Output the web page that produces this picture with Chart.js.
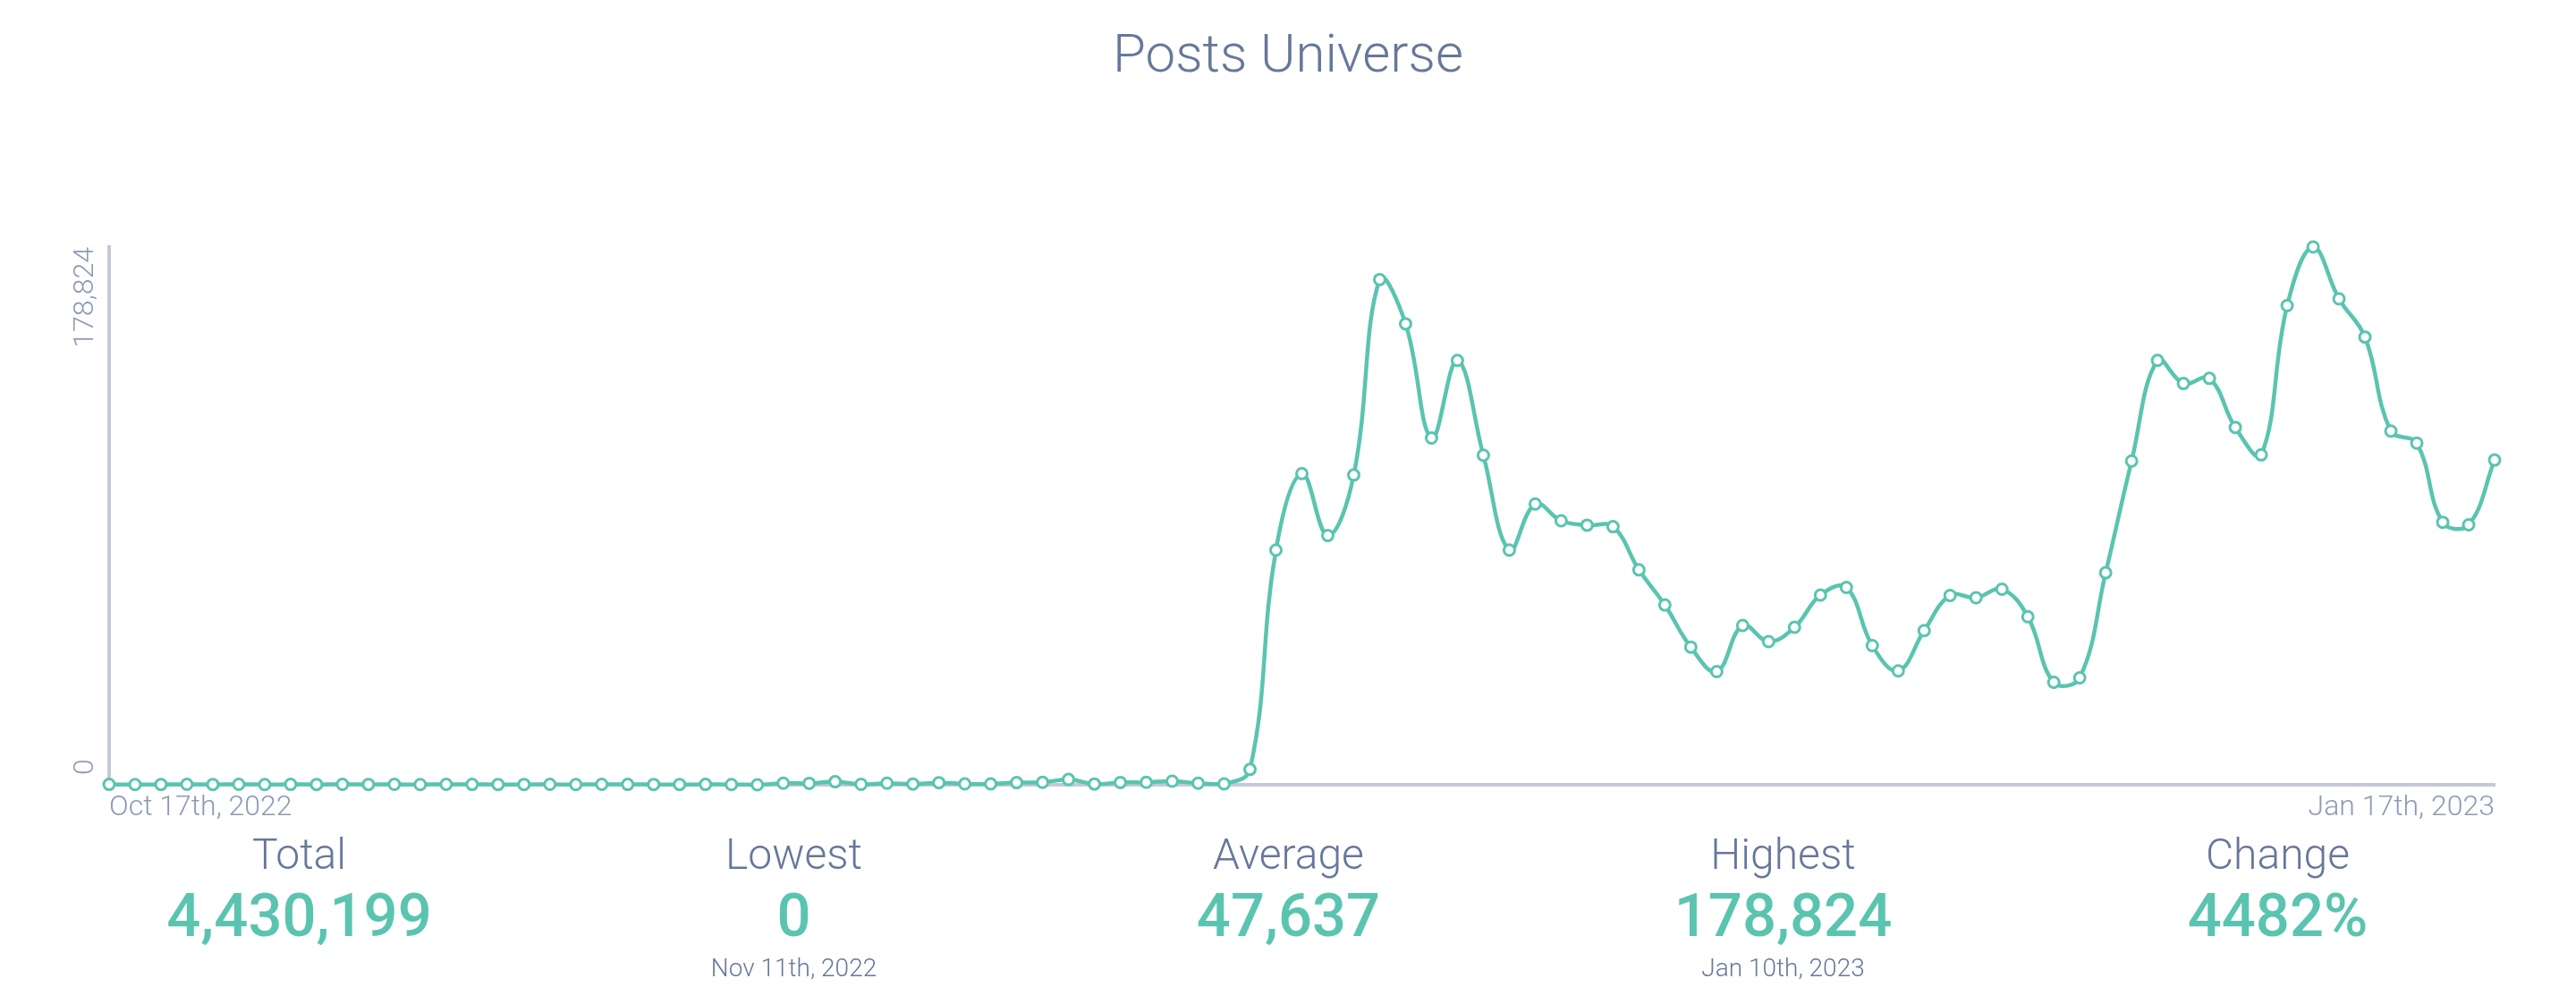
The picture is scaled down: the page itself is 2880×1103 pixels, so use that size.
<!DOCTYPE html>
<html>
<head>
<meta charset="utf-8">
<title>Posts Universe</title>
<script src="https://cdn.jsdelivr.net/npm/chart.js@4.4.0/dist/chart.umd.min.js"></script>
<style>
    html, body { margin: 0; padding: 0; background: #fff; }
    body { width: 2880px; height: 1103px; position: relative; overflow: hidden; font-family: Roboto, sans-serif; }
    #chartBox { position: absolute; left: 0; top: 0; width: 2880px; height: 1103px; }
    #title { position: absolute; left: 0; top: 30px; width: 2880px; text-align: center;
             font-size: 60px; line-height: 60px; font-weight: 300; color: #66789a; }
    .stat { position: absolute; top: 0; width: 553px; text-align: center; }
    .stat div { position: absolute; left: 0; width: 553px; white-space: nowrap; }
    .stat .label { top: 931px; font-size: 48px; line-height: 48px; font-weight: 300; color: #66789a; }
    .stat .value { top: 990px; font-size: 67px; line-height: 67px; font-weight: 500; color: #5ac4b0; }
    .stat .note { top: 1068px; font-size: 28px; line-height: 28px; font-weight: 300; color: #66789a; }
</style>
</head>
<body>
<div id="title">Posts Universe</div>
<div id="chartBox"><canvas id="postsChart"></canvas></div>
<div id="stats"></div>

<script>
// daily posts, Oct 17th 2022 .. Jan 17th 2023
const startDay = [2022, 9, 17];
const dayCount = 93;

const postValues = [
    120, 90, 110, 130, 100, 140, 90, 120, 110, 150, 100, 130, 90, 140, 120, 110, 100, 130, 90, 140, 120, 110, 100,
    120, 90, 0, 510, 480, 1020, 150, 520, 250, 700, 280, 300, 720, 800, 1750, 260, 780, 800, 1200, 520, 300,
    5110, 78030, 103470, 82900, 102990, 167990, 153260, 115280, 141090, 109560,
    78030, 93370, 87770, 86310, 85820, 71460, 59770, 45770, 37620, 52950,
    47600, 52350, 63060, 65620, 46260, 37860, 51250, 62940, 62200, 65010,
    55880, 34090, 35550, 70490, 107620, 141090, 133420, 135130, 118820, 109690,
    159350, 178824, 161550, 148880, 117600, 113580, 87290, 86430, 107980
];

const xTickLabels = ['Oct 17th, 2022', 'Jan 17th, 2023'];
const yTickValues = [0, 178824];

const statLabels = ['Total', 'Lowest', 'Average', 'Highest', 'Change'];
const statValues = ['4,430,199', '0', '47,637', '178,824', '4482%'];
const statNotes = ['', 'Nov 11th, 2022', '', 'Jan 10th, 2023', ''];

const teal = '#5ac4b0';
const axisColor = '#c3c9d8';
const tickColor = '#8e9ab5';

function pad(n) {
    return (n < 10 ? '0' : '') + n;
}

let categories = [];
for (let i = 0; i < dayCount; i++) {
    let d = new Date(startDay[0], startDay[1], startDay[2] + i);
    categories.push(d.getFullYear() + '-' + pad(d.getMonth() + 1) + '-' + pad(d.getDate()));
}

function buildStats() {
    const box = document.getElementById('stats');
    statLabels.forEach(function (label, i) {
        const col = document.createElement('div');
        col.className = 'stat';
        col.style.left = (58 + i * 553) + 'px';

        const l = document.createElement('div');
        l.className = 'label';
        l.textContent = label;
        col.appendChild(l);

        const v = document.createElement('div');
        v.className = 'value';
        v.textContent = statValues[i];
        col.appendChild(v);

        if (statNotes[i]) {
            const n = document.createElement('div');
            n.className = 'note';
            n.textContent = statNotes[i];
            col.appendChild(n);
        }
        box.appendChild(col);
    });
}

// y labels are rotated; the bottom one sits above its tick, the top one below it
const yLabelPlugin = {
    id: 'yLabels',
    afterDraw: function (chart) {
        const scale = chart.scales.y;
        const c = chart.ctx;
        c.save();
        c.fillStyle = tickColor;
        c.font = '300 32px Roboto';
        c.textBaseline = 'middle';
        yTickValues.forEach(function (v, i) {
            const py = scale.getPixelForValue(v);
            c.save();
            c.translate(scale.right - 26, i === 0 ? py - 11 : py);
            c.rotate(-Math.PI / 2);
            c.textAlign = i === 0 ? 'left' : 'right';
            c.fillText(Number(v).toLocaleString('en-US'), 0, 0);
            c.restore();
        });
        c.restore();
    }
};

function makeChart() {
    const tickFont = { family: 'Roboto', size: 32, weight: '300' };
    const ctx = document.getElementById('postsChart').getContext('2d');

    new Chart(ctx, {
        type: 'line',
        data: {
            labels: categories,
            datasets: [{
                data: postValues,
                borderColor: teal,
                borderWidth: 4.5,
                tension: 0.4,
                fill: false,
                clip: false,
                pointRadius: 6,
                pointBorderWidth: 3,
                pointBackgroundColor: '#ffffff',
                pointBorderColor: teal
            }]
        },
        options: {
            responsive: true,
            maintainAspectRatio: false,
            animation: false,
            layout: {
                padding: { top: 276, right: 91, bottom: 176, left: 0 }
            },
            plugins: {
                legend: { display: false },
                tooltip: { enabled: false }
            },
            scales: {
                x: {
                    grid: { display: false, drawTicks: false },
                    border: { display: true, color: axisColor, width: 4 },
                    ticks: {
                        autoSkip: false,
                        minRotation: 0,
                        maxRotation: 0,
                        align: 'inner',
                        padding: 7,
                        color: tickColor,
                        font: tickFont,
                        callback: function (value, index, ticks) {
                            if (index === 0) return xTickLabels[0];
                            if (index === ticks.length - 1) return xTickLabels[1];
                            return '';
                        }
                    },
                    afterFit: function (scale) {
                        scale.height = 50;
                    }
                },
                y: {
                    min: 0,
                    max: 178824,
                    grid: { display: false, drawTicks: false },
                    border: { display: true, color: axisColor, width: 4 },
                    ticks: { display: false },
                    afterFit: function (scale) {
                        scale.width = 122;
                    }
                }
            }
        },
        plugins: [yLabelPlugin]
    });
}

buildStats();
Promise.all([
    document.fonts.load('300 32px Roboto'),
    document.fonts.load('500 67px Roboto')
]).then(makeChart, makeChart);
</script>
</body>
</html>
